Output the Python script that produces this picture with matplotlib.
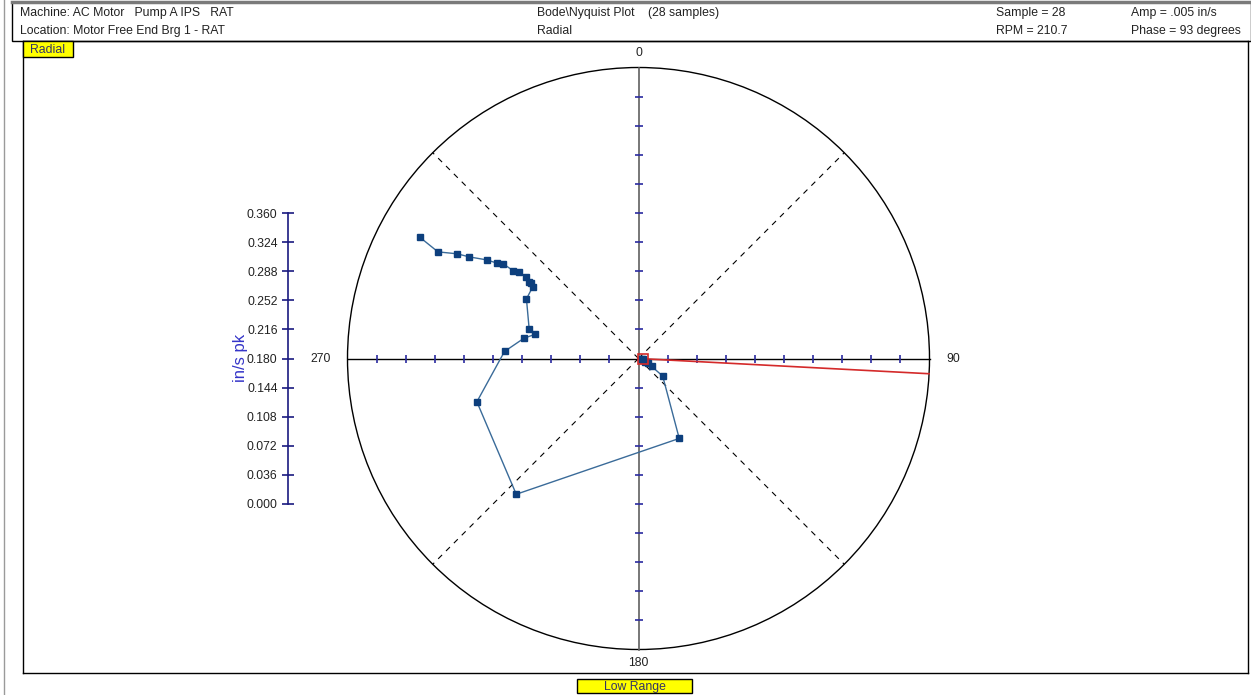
import numpy as np
import matplotlib.pyplot as plt
from matplotlib.patches import Rectangle, Circle

plt.rcParams['font.family'] = ['Liberation Sans', 'DejaVu Sans']

# Nyquist samples (amplitude in in/s pk, phase in degrees, clockwise from top)
amp = np.array([0.309, 0.281, 0.259, 0.244, 0.224, 0.211, 0.204, 0.189, 0.182,
                0.172, 0.166, 0.162, 0.158, 0.157, 0.140, 0.132, 0.144, 0.166,
                0.207, 0.226, 0.111, 0.037, 0.019, 0.013, 0.009, 0.006, 0.005,
                0.005])
phase = np.array([299, 298, 300, 301, 303, 304, 305, 305, 306, 306, 305, 305,
                  304, 298, 285, 283, 280, 273, 255, 222, 153, 126, 121, 118,
                  115, 110, 100, 93])
rpm = 210.7
full_scale = 0.36
scale_ticks = np.arange(0, 0.361, 0.036)
angle_labels = ['0', '90', '180', '270']

W, H = 1251, 695
def fx(x):
    return x / W
def fy(y):
    return 1 - y / H

fig = plt.figure(figsize=(W / 100, H / 100), dpi=100)

# page frame and header box
fig.add_artist(plt.Line2D([fx(4), fx(4)], [0, 1], color='#9a9a9a', lw=1))
fig.add_artist(Rectangle((fx(12), fy(41)), 1 - fx(12), (41 - 2) / H,
                         transform=fig.transFigure, fill=False, ec='black', lw=1))
fig.add_artist(plt.Line2D([fx(12), 1], [fy(2), fy(2)], color='#7a7a7a', lw=2.5))

tc = '#222222'
fs = 8.8
n = len(amp)
fig.text(fx(20), fy(13), 'Machine: AC Motor   Pump A IPS   RAT', fontsize=fs, color=tc, va='center')
fig.text(fx(20), fy(31), 'Location: Motor Free End Brg 1 - RAT', fontsize=fs, color=tc, va='center')
fig.text(fx(537), fy(13), 'Bode\\Nyquist Plot    (%d samples)' % n, fontsize=fs, color=tc, va='center')
fig.text(fx(537), fy(31), 'Radial', fontsize=fs, color=tc, va='center')
fig.text(fx(996), fy(13), 'Sample = %d' % n, fontsize=fs, color=tc, va='center')
fig.text(fx(996), fy(31), 'RPM = %.1f' % rpm, fontsize=fs, color=tc, va='center')
fig.text(fx(1131), fy(13), 'Amp = %s in/s' % ('%.3f' % amp[-1]).lstrip('0'), fontsize=fs, color=tc, va='center')
fig.text(fx(1131), fy(31), 'Phase = %d degrees' % phase[-1], fontsize=fs, color=tc, va='center')

# main plot area, 291 px for the full scale radius
cx, cy = 638.5, 358.5
s = full_scale / 291
ax = fig.add_axes([fx(23), fy(673), (1248 - 23) / W, (673 - 41) / H])
ax.set_xlim((23 - cx) * s, (1248 - cx) * s)
ax.set_ylim(-(673 - cy) * s, (cy - 41) * s)
ax.set_xticks([])
ax.set_yticks([])
for sp in ax.spines.values():
    sp.set_color('black')
    sp.set_linewidth(1)

ax.add_patch(Circle((0, 0), full_scale, fill=False, ec='black', lw=1))
for a in [45, 135, 225, 315]:
    t = np.radians(a)
    ax.plot([0, full_scale * np.sin(t)], [0, full_scale * np.cos(t)],
            color='black', lw=0.8, ls=(0, (5, 5)))
ax.plot([-full_scale, full_scale], [0, 0], color='black', lw=1)
ax.plot([0, 0], [-full_scale, full_scale], color='#606060', lw=1.2)

rt = scale_ticks[1:-1]
ax.plot(np.concatenate([rt, -rt]), np.zeros(2 * len(rt)), ls='none',
        marker='|', ms=6, mew=1.2, color='#2a2aa0')
ax.plot(np.zeros(2 * len(rt)), np.concatenate([rt, -rt]), ls='none',
        marker='_', ms=6, mew=1.2, color='#2a2aa0')

lab_r = full_scale + 14 * s
ax.text(0, lab_r, angle_labels[0], ha='center', va='center', fontsize=fs, color=tc)
ax.text(lab_r + 3 * s, 0, angle_labels[1], ha='left', va='center', fontsize=fs, color=tc)
ax.text(0, -lab_r, angle_labels[2], ha='center', va='center', fontsize=fs, color=tc)
ax.text(-lab_r - 3 * s, 0, angle_labels[3], ha='right', va='center', fontsize=fs, color=tc)

# current phase indicator
tp = np.radians(phase[-1])
ax.plot([0, full_scale * np.sin(tp)], [0, full_scale * np.cos(tp)], color='#d42a2a', lw=1.2)

th = np.radians(phase)
xs = amp * np.sin(th)
ys = amp * np.cos(th)
ax.plot(xs, ys, color='#3a6b99', lw=1, marker='s', ms=5, mfc='#0d3f7d', mec='#0d3f7d')
ax.plot(xs[-1], ys[-1], marker='s', ms=7.5, mfc='none', mec='#d42a2a', mew=1.2)

# amplitude scale bar
sax = fig.add_axes([fx(288), fy(504), 0.0001, (504 - 213) / H])
sax.set_ylim(0, full_scale)
sax.set_xticks([])
sax.set_yticks(scale_ticks)
sax.set_yticklabels(['%.3f' % v for v in scale_ticks])
sax.tick_params(axis='y', direction='inout', length=9, width=1.2, color='#1a1a80',
                labelsize=fs, labelcolor=tc, pad=3)
for k in ['top', 'right', 'bottom']:
    sax.spines[k].set_visible(False)
sax.spines['left'].set_color('#1a1a80')
sax.spines['left'].set_linewidth(1.2)
fig.text(fx(240), fy(358), 'in/s pk', rotation=90, ha='center', va='center',
         fontsize=12, color='#3434c8')

# yellow captions
for (x0, y0, x1, y1, txt) in [(23, 41, 73, 57, 'Radial'), (577, 679, 692, 693, 'Low Range')]:
    fig.add_artist(Rectangle((fx(x0), fy(y1)), (x1 - x0) / W, (y1 - y0) / H,
                             transform=fig.transFigure, fc='#ffff00', ec='black', lw=1))
    fig.text(fx((x0 + x1) / 2), fy((y0 + y1) / 2 + 1), txt, ha='center', va='center',
             fontsize=fs, color='#333366')

fig.savefig('out.png', dpi=100)
